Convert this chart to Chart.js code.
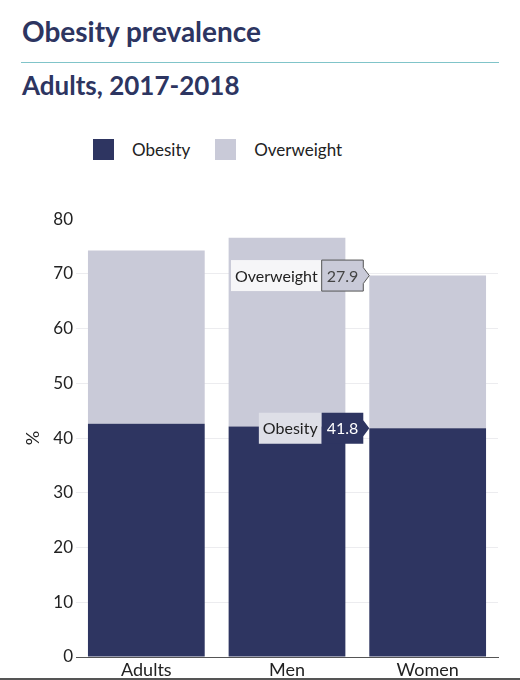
<!DOCTYPE html>
<html>
<head>
<meta charset="utf-8">
<script src="https://cdn.jsdelivr.net/npm/chart.js@4"></script>
<style>
  body { margin: 0; width: 520px; height: 680px; position: relative; overflow: hidden; background: #fff; font-family: Lato, "Open Sans", sans-serif; }
  h1, h2 { position: absolute; left: 22px; margin: 0; color: #2d3561; font-weight: 700; white-space: nowrap; }
  h1 { top: 14px; font-size: 28px; }
  h2 { top: 69px; font-size: 26px; }
  .rule { position: absolute; left: 21px; top: 62px; width: 478px; height: 0; border-top: 1.5px solid #80c4c9; }
  #legend { position: absolute; left: 93px; top: 139px; display: flex; align-items: center; font-size: 17px; color: #222; }
  #legend span.box { width: 21px; height: 21px; display: inline-block; margin-right: 18px; }
  #legend span.txt { margin-right: 25px; }
  #wrap { position: absolute; left: 0; top: 206px; width: 520px; height: 474px; }
  .bottom { position: absolute; left: 0; bottom: 0; width: 520px; height: 2px; background: #555; }
</style>
</head>
<body>
<h1>Obesity prevalence</h1>
<div class="rule"></div>
<h2>Adults, 2017-2018</h2>
<div id="legend"></div>
<div id="wrap"><canvas id="chart"></canvas></div>
<div class="bottom"></div>
<script>
var categories = ['Adults', 'Men', 'Women'];
var obesity = [42.6, 42.1, 41.8];
var overweight = [31.7, 34.5, 27.9];
var seriesNames = ['Obesity', 'Overweight'];
var seriesColors = ['#2e3561', '#c9cad8'];
var tagIndex = 2; // tooltip shown on Women

// little hover-style tags left of the selected bar
var tagPlugin = {
    id: 'tags',
    afterDatasetsDraw: function (chart) {
        var ctx = chart.ctx;
        var styles = [
            { nameFill: '#dedfe7', valueFill: '#2e3561', valueText: '#fff', border: null },
            { nameFill: '#f6f6f8', valueFill: '#c9cad8', valueText: '#444', border: '#555' }
        ];
        ctx.save();
        ctx.font = '16px Lato, sans-serif';
        ctx.textBaseline = 'middle';
        chart.data.datasets.forEach(function (ds, i) {
            var el = chart.getDatasetMeta(i).data[tagIndex];
            var s = styles[i];
            var tipX = el.x - el.width / 2;
            var y = el.y;
            var h = 31, arrow = 6, pad = 4;
            var valStr = ds.data[tagIndex].toFixed(1);
            var vw = ctx.measureText(valStr).width + pad * 2 + 2;
            var nw = ctx.measureText(ds.label).width + pad * 2;
            var vx = tipX - arrow - vw;
            var nx = vx - nw;
            ctx.fillStyle = s.nameFill;
            ctx.fillRect(nx, y - h / 2, nw, h);
            ctx.fillStyle = '#222';
            ctx.textAlign = 'left';
            ctx.fillText(ds.label, nx + pad, y + 1);
            ctx.beginPath();
            ctx.moveTo(vx, y - h / 2);
            ctx.lineTo(vx + vw, y - h / 2);
            ctx.lineTo(vx + vw, y - 8);
            ctx.lineTo(tipX, y);
            ctx.lineTo(vx + vw, y + 8);
            ctx.lineTo(vx + vw, y + h / 2);
            ctx.lineTo(vx, y + h / 2);
            ctx.closePath();
            ctx.fillStyle = s.valueFill;
            ctx.fill();
            if (s.border) {
                ctx.strokeStyle = s.border;
                ctx.lineWidth = 1;
                ctx.stroke();
            }
            ctx.fillStyle = s.valueText;
            ctx.fillText(valStr, vx + pad + 1, y + 1);
        });
        ctx.restore();
    }
};

var ctx = document.getElementById('chart').getContext('2d');
var chart = new Chart(ctx, {
    type: 'bar',
    data: {
        labels: categories,
        datasets: [{
            label: seriesNames[0],
            data: obesity,
            backgroundColor: seriesColors[0]
        }, {
            label: seriesNames[1],
            data: overweight,
            backgroundColor: seriesColors[1]
        }]
    },
    options: {
        responsive: true,
        maintainAspectRatio: false,
        animation: false,
        layout: { padding: { top: 0, right: 22, left: 0, bottom: 0 } },
        datasets: { bar: { categoryPercentage: 0.83, barPercentage: 1 } },
        plugins: {
            legend: { display: false },
            tooltip: { enabled: false }
        },
        scales: {
            x: {
                stacked: true,
                grid: { display: false, drawTicks: false, tickLength: 0 },
                border: { display: true, color: '#555', width: 1 },
                ticks: { color: '#222', font: { family: 'Lato', size: 18 }, padding: 2 },
                afterFit: function (scale) { scale.height = 23; }
            },
            y: {
                stacked: true,
                min: 0,
                max: 80,
                ticks: { stepSize: 10, color: '#222', font: { family: 'Lato', size: 17 }, padding: 3 },
                grid: {
                    drawTicks: false,
                    color: function (c) { return (c.tick.value === 0 || c.tick.value === 80) ? 'rgba(0,0,0,0)' : '#ececef'; }
                },
                border: { display: false },
                title: { display: true, text: '%', color: '#222', font: { family: 'Lato', size: 18 }, padding: { top: 22, bottom: 0 } },
                afterFit: function (scale) { scale.width = 76; }
            }
        }
    },
    plugins: [tagPlugin]
});

// legend built from the chart's datasets
var legend = document.getElementById('legend');
chart.data.datasets.forEach(function (ds) {
    var b = document.createElement('span');
    b.className = 'box';
    b.style.background = ds.backgroundColor;
    var t = document.createElement('span');
    t.className = 'txt';
    t.textContent = ds.label;
    legend.appendChild(b);
    legend.appendChild(t);
});
</script>
</body>
</html>
